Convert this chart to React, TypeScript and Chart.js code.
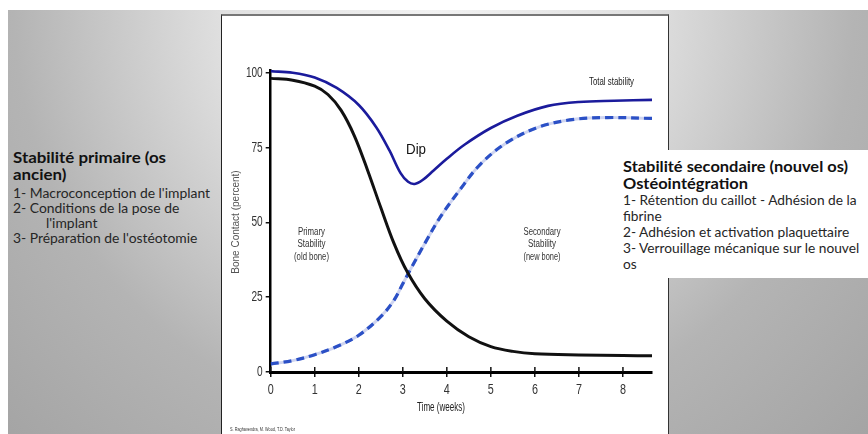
import React, { useEffect, useRef } from "react";
import { Chart, registerables } from "chart.js";

Chart.register(...registerables);

// ---- data ----
const totalWeeks = [0, 0.5, 1, 1.5, 2, 2.4, 2.7, 2.95, 3.12, 3.27, 3.45, 3.7, 4.0, 4.4, 5.0, 5.6, 6.3, 7.0, 7.8, 8.66];
const totalValues = [100.6, 100.1, 98.5, 95, 89.3, 81.8, 74, 66.5, 63.6, 62.9, 64.2, 67.4, 71.3, 76, 81.6, 85.7, 89, 90.3, 90.7, 91];

const primaryWeeks = [0, 0.5, 1.0, 1.3, 1.6, 1.9, 2.2, 2.5, 2.8, 3.1, 3.5, 4.0, 4.5, 5.0, 5.5, 6.0, 7.0, 8.0, 8.66];
const primaryValues = [98.2, 97.6, 95.6, 92.8, 87.5, 79, 67.5, 55, 43, 33.5, 24.5, 17, 11.8, 8.5, 6.9, 6.1, 5.7, 5.5, 5.4];

const secondaryWeeks = [0, 0.5, 1.0, 1.5, 2.0, 2.5, 2.8, 3.0, 3.2, 3.5, 3.85, 4.3, 4.75, 5.35, 6.1, 6.9, 7.65, 8.66];
const secondaryValues = [2.7, 3.8, 5.8, 8.5, 12.3, 18.5, 24, 29.5, 35, 43, 51.8, 61, 69.3, 76.6, 82, 84.5, 85.1, 84.8];

const xTickValues = [0, 1, 2, 3, 4, 5, 6, 7, 8];
const yTickValues = [0, 25, 50, 75, 100];
const xMax = 8.66;
const yMax = 101;

const xTitle = "Time (weeks)";
const yTitle = "Bone Contact (percent)";
const credit = "S. Raghavendra, M. Wood, T.D. Taylor";

const leftTitleLines = ["Stabilité primaire (os", "ancien)"];
const leftBodyLines = ["1- Macroconception de l'implant", "2- Conditions de la pose de", "l'implant", "3- Préparation de l'ostéotomie"];
const rightTitleLines = ["Stabilité secondaire (nouvel os)", "Ostéointégration"];
const rightBodyLines = ["1- Rétention du caillot - Adhésion de la", "fibrine", "2- Adhésion et activation plaquettaire", "3- Verrouillage mécanique sur le nouvel", "os"];

const pts = (xs: number[], ys: number[]) => xs.map((x, i) => ({ x, y: ys[i] }));

const SANS = "'Liberation Sans', Arial, sans-serif";
const TXT = "Lato, 'Open Sans', sans-serif";

function squeezeText(ctx: CanvasRenderingContext2D, text: string, cx: number, cy: number, size: number, width: number, color: string, align: CanvasTextAlign = "center") {
  ctx.save();
  ctx.font = `${size}px ${SANS}`;
  ctx.fillStyle = color;
  ctx.textAlign = align;
  ctx.textBaseline = "middle";
  ctx.fillText(text, cx, cy, width);
  ctx.restore();
}

function narrowLabel(ctx: CanvasRenderingContext2D, text: string, x: number, y: number, size: number, squeeze: number, align: CanvasTextAlign) {
  ctx.save();
  ctx.font = `${size}px ${SANS}`;
  const w = ctx.measureText(text).width;
  ctx.fillStyle = "#333";
  ctx.textAlign = align;
  ctx.textBaseline = "middle";
  ctx.fillText(text, x, y, w * squeeze);
  ctx.restore();
}

const annotPlugin = {
  id: "annot",
  afterDraw(chart: any) {
    const ctx: CanvasRenderingContext2D = chart.ctx;
    const xs = chart.scales.x;
    const ys = chart.scales.y;
    const { bottom, left } = chart.chartArea;
    // inner part of x ticks (ticks cross the axis)
    ctx.save();
    ctx.strokeStyle = "#111";
    ctx.lineWidth = 1.5;
    xs.ticks.forEach((t: any) => {
      const px = xs.getPixelForValue(t.value);
      ctx.beginPath();
      ctx.moveTo(px, bottom);
      ctx.lineTo(px, bottom - 5);
      ctx.stroke();
    });
    ctx.restore();

    // narrow tick labels placed by the scales
    xs.ticks.forEach((t: any) => {
      narrowLabel(ctx, String(t.value), xs.getPixelForValue(t.value), bottom + 18, 15, 0.72, "center");
    });
    ys.ticks.forEach((t: any) => {
      narrowLabel(ctx, String(t.value), left - 8, ys.getPixelForValue(t.value), 14, 0.72, "right");
    });

    squeezeText(ctx, "Dip", 195, 136, 15, 20, "#111");
    squeezeText(ctx, "Total stability", 390.5, 68, 10, 45, "#222");
    squeezeText(ctx, "Primary", 90.5, 218, 10, 27, "#333");
    squeezeText(ctx, "Stability", 90.5, 230.5, 10, 28, "#333");
    squeezeText(ctx, "(old bone)", 90.5, 243, 10, 35, "#333");
    squeezeText(ctx, "Secondary", 321, 218, 10, 37, "#333");
    squeezeText(ctx, "Stability", 321, 230.5, 10, 28, "#333");
    squeezeText(ctx, "(new bone)", 321, 243, 10, 37, "#333");
    squeezeText(ctx, xTitle, 220, 394, 12, 48, "#222");
    squeezeText(ctx, credit, 9, 415, 6, 65, "#333", "left");

    ctx.save();
    ctx.translate(15, 208);
    ctx.rotate(-Math.PI / 2);
    ctx.font = `10px ${SANS}`;
    ctx.fillStyle = "#555";
    ctx.textAlign = "center";
    ctx.textBaseline = "middle";
    ctx.fillText(yTitle, 0, 0, 110);
    ctx.restore();
  },
};

function measure(text: string, font: string) {
  const c = document.createElement("canvas").getContext("2d")!;
  c.font = font;
  return c.measureText(text).width;
}

function TextBlock({ lines, left, cys, size, bold, refText, target, color, indents }: any) {
  const font = `${bold ? "700 " : ""}${size}px ${TXT}`;
  const w = measure(refText, font);
  const sx = w > 0 ? target / w : 1;
  return (
    <>
      {lines.map((l: string, i: number) => (
        <div
          key={i}
          style={{
            position: "absolute",
            left: left + (indents ? indents[i] : 0),
            top: cys[i] - size * 0.6,
            fontFamily: TXT,
            fontSize: size,
            fontWeight: bold ? 700 : 400,
            lineHeight: `${size * 1.2}px`,
            whiteSpace: "nowrap",
            color,
            transform: `scaleX(${sx})`,
            transformOrigin: "0 50%",
          }}
        >
          {l}
        </div>
      ))}
    </>
  );
}

export default function App() {
  const ref = useRef<HTMLCanvasElement | null>(null);

  useEffect(() => {
    document.body.style.margin = "0";
    const canvas = ref.current!;
    const chart = new Chart(canvas, {
      type: "line",
      data: {
        datasets: [
          { data: pts(totalWeeks, totalValues), borderColor: "#1b1b9c", borderWidth: 2.6 },
          { data: pts(primaryWeeks, primaryValues), borderColor: "#111111", borderWidth: 3 },
          { data: pts(secondaryWeeks, secondaryValues), borderColor: "#2b50c6", borderWidth: 3.2, borderDash: [8, 5] },
          { data: pts(secondaryWeeks, secondaryValues), borderColor: "rgba(190,198,235,0.75)", borderWidth: 3 },
        ],
      },
      options: {
        animation: false,
        responsive: false,
        devicePixelRatio: 1,
        layout: { padding: { left: 0, top: 56, right: 17, bottom: 0 } },
        plugins: { legend: { display: false }, tooltip: { enabled: false } },
        elements: {
          point: { radius: 0 },
          line: { tension: 0.35, borderCapStyle: "butt", fill: false },
        },
        scales: {
          x: {
            type: "linear",
            min: 0,
            max: xMax,
            afterFit: (s: any) => { s.height = 62; },
            afterBuildTicks: (s: any) => { s.ticks = xTickValues.map((v) => ({ value: v })); },
            grid: { drawOnChartArea: false, drawTicks: true, tickLength: 5, color: "#111", lineWidth: 1.5 },
            border: { display: true, color: "#000", width: 3 },
            ticks: { padding: 5, color: "rgba(0,0,0,0)", font: { size: 14 }, maxRotation: 0, autoSkip: false },
          },
          y: {
            type: "linear",
            min: 0,
            max: yMax,
            afterFit: (s: any) => { s.width = 49.7; },
            afterBuildTicks: (s: any) => { s.ticks = yTickValues.map((v) => ({ value: v })); },
            grid: { drawOnChartArea: false, drawTicks: true, tickLength: 5, color: "#111", lineWidth: 1.5 },
            border: { display: true, color: "#000", width: 2.5 },
            ticks: { padding: 3, color: "rgba(0,0,0,0)", font: { size: 13 }, autoSkip: false },
          },
        },
      } as any,
      plugins: [annotPlugin],
    });
    return () => chart.destroy();
  }, []);

  return (
    <div style={{ position: "relative", width: 868, height: 434, background: "#fff", overflow: "hidden" }}>
      <div
        style={{
          position: "absolute",
          left: 8,
          top: 10,
          width: 860,
          height: 424,
          background: "radial-gradient(circle at 426px 0px, #f2f2f2 0px, #e0e0e0 210px, #b4b4b4 420px, #a3a3a3 620px)",
        }}
      />
      <div
        style={{
          position: "absolute",
          left: 221,
          top: 14,
          width: 448,
          height: 420,
          boxSizing: "border-box",
          background: "#fff",
          borderLeft: "1.5px solid #222",
          borderTop: "2px solid #777",
          borderRight: "1.5px solid #333",
        }}
      />
      <canvas
        ref={ref}
        width={448}
        height={420}
        style={{ position: "absolute", left: 221, top: 14, width: 448, height: 420 }}
      />
      <div style={{ position: "absolute", left: 600, top: 150, width: 268, height: 128, background: "#fff" }} />
      <TextBlock lines={leftTitleLines} left={13} cys={[158, 175]} size={14.5} bold refText={leftTitleLines[0]} target={153} color="#111" />
      <TextBlock lines={leftBodyLines} left={13} cys={[193, 208, 223, 238]} size={12.5} refText={leftBodyLines[0]} target={197} color="#262626" indents={[0, 0, 33, 0]} />
      <TextBlock lines={rightTitleLines} left={623} cys={[166, 183]} size={15} bold refText={rightTitleLines[0]} target={225} color="#111" />
      <TextBlock lines={rightBodyLines} left={623} cys={[200, 216, 232, 248, 264]} size={12.5} refText={rightBodyLines[0]} target={234} color="#262626" />
    </div>
  );
}
